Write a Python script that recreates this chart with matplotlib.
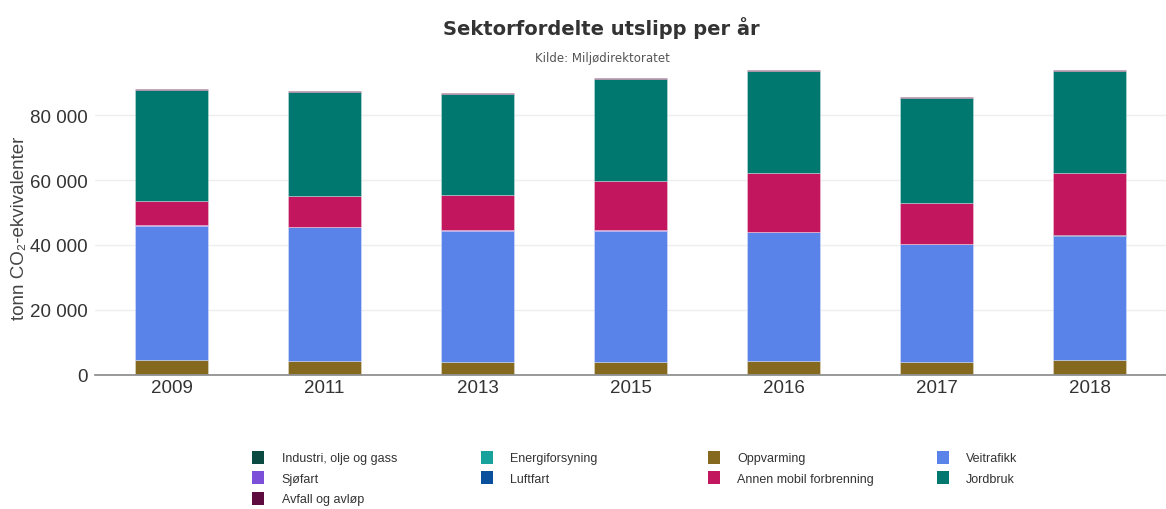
import matplotlib
matplotlib.use('Agg')
import numpy as np
import matplotlib.pyplot as plt
from matplotlib.patches import Patch

plt.rcParams['font.family'] = ['Liberation Sans', 'DejaVu Sans']

years = ['2009', '2011', '2013', '2015', '2016', '2017', '2018']
sectors = ['Industri, olje og gass', 'Energiforsyning', 'Oppvarming', 'Veitrafikk',
           'Sjøfart', 'Luftfart', 'Annen mobil forbrenning', 'Jordbruk', 'Avfall og avløp']
colors = ['#0b4a41', '#17a39b', '#84691f', '#5a83ea',
          '#7b4fd8', '#0a4f9c', '#c2165f', '#007870', '#5e0b40']

# tonn CO2-ekv per sektor
industri = [200, 200, 200, 200, 200, 200, 200]
energi = [100, 100, 100, 100, 100, 100, 100]
oppvarming = [4200, 4100, 3600, 3600, 4100, 3800, 4300]
veitrafikk = [41500, 41000, 40500, 40500, 39500, 36200, 38200]
sjofart = [100, 100, 100, 100, 100, 100, 100]
luftfart = [50, 50, 50, 50, 50, 50, 50]
annen_mobil = [7550, 9650, 10950, 15250, 18050, 12450, 19250]
jordbruk = [34000, 32000, 31100, 31200, 31400, 32400, 31300]
avfall = [300, 300, 300, 300, 300, 300, 300]

series = [industri, energi, oppvarming, veitrafikk, sjofart, luftfart,
          annen_mobil, jordbruk, avfall]

fig = plt.figure(figsize=(11.66, 5.10), dpi=100)
ax = fig.add_axes([0.0815, 0.263, 0.9185, 0.629])

x = np.arange(len(years))
bottom = np.zeros(len(years))
for vals, col in zip(series, colors):
    ax.bar(x, vals, 0.48, bottom=bottom, color=col,
           edgecolor=(1, 1, 1, 0.35), linewidth=0.6)
    bottom += np.array(vals)

ax.set_xlim(-0.5, len(years) - 0.5)
ax.set_ylim(0, 98800)
ax.set_xticks(x)
ax.set_xticklabels(years, fontsize=13.5, color='#333333')
ax.set_yticks([0, 20000, 40000, 60000, 80000])
ax.set_yticklabels(['0', '20 000', '40 000', '60 000', '80 000'],
                   fontsize=13.5, color='#333333')
ax.tick_params(axis='y', length=0, pad=5)
ax.tick_params(axis='x', length=0, pad=3)
ax.grid(axis='y', color='#eeeeee', linewidth=1)
ax.set_axisbelow(True)
for s in ['top', 'right', 'left']:
    ax.spines[s].set_visible(False)
ax.spines['bottom'].set_color('#888888')
ax.spines['bottom'].set_linewidth(1.2)
ax.set_ylabel('tonn CO₂-ekvivalenter', fontsize=13.5, color='#444444')
ax.yaxis.set_label_coords(-0.063, 0.46)

fig.text(0.516, 0.945, 'Sektorfordelte utslipp per år', ha='center', va='center',
         fontsize=14, fontweight='bold', color='#333333', family='DejaVu Sans')
fig.text(0.517, 0.885, 'Kilde: Miljødirektoratet', ha='center', va='center',
         fontsize=8.5, color='#555555', family='DejaVu Sans')

# legend, four columns laid out row by row
col_x = [0.212, 0.408, 0.603, 0.799]
for c in range(4):
    idx = list(range(c, len(sectors), 4))
    handles = [Patch(facecolor=colors[i], edgecolor='none') for i in idx]
    labels = [sectors[i] for i in idx]
    fig.legend(handles, labels, loc='upper left', bbox_to_anchor=(col_x[c], 0.124),
               frameon=False, fontsize=9, handlelength=0.95, handleheight=1.2,
               handletextpad=1.4, labelspacing=0.55, borderaxespad=0,
               labelcolor='#333333')

fig.savefig('out.png', dpi=100)
